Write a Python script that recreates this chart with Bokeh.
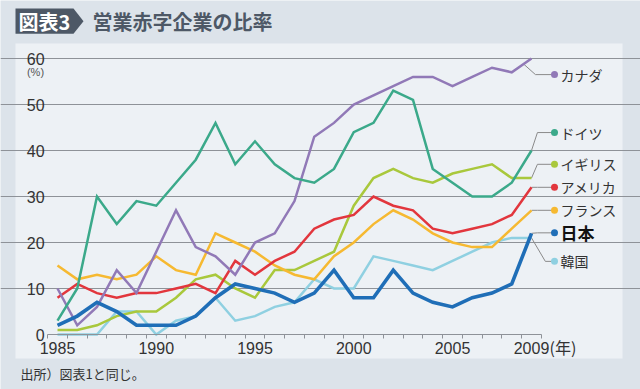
import numpy as np
from bokeh.plotting import figure
from bokeh.models import (Range1d, LinearAxis, FixedTicker, BoxAnnotation,
                          PolyAnnotation, Label, Grid, ColumnDataSource)
from bokeh.core.properties import value
from bokeh.embed import file_html
from bokeh.resources import INLINE

# ---------------- data ----------------
years = list(range(1985, 2010))
canada = [10, 2, 6, 14, 9, 18, 27, 19, 17, 13, 20, 22, 29, 43, 46, 50, 52, 54, 56, 56, 54, 56, 58, 57, 60]
germany = [3, 10, 30, 24, 29, 28, 33, 38, 46, 37, 42, 37, 34, 33, 36, 44, 46, 53, 51, 36, 33, 30, 30, 33, 40]
uk = [1, 1, 2, 4, 5, 5, 8, 12, 13, 10, 8, 14, 14, 16, 18, 28, 34, 36, 34, 33, 35, 36, 37, 34, 34]
usa = [8, 11, 9, 8, 9, 9, 10, 11, 9, 16, 13, 16, 18, 23, 25, 26, 30, 28, 27, 23, 22, 23, 24, 26, 32]
france = [15, 12, 13, 12, 13, 17, 14, 13, 22, 20, 18, 15, 13, 12, 17, 20, 24, 27, 25, 22, 20, 19, 19, 23, 27]
japan = [2, 4, 7, 5, 2, 2, 2, 4, 8, 11, 10, 9, 7, 9, 14, 8, 8, 14, 9, 7, 6, 8, 9, 11, 22]
korea = [0, 0, 0, 5, 5, 0, 3, 4, 8, 3, 4, 6, 7, 12, 10, 10, 17, 16, 15, 14, 16, 18, 20, 21, 21]

names = ["カナダ", "ドイツ", "イギリス", "アメリカ", "フランス", "日本", "韓国"]
series = [canada, germany, uk, usa, france, japan, korea]
y_ticks = [0, 10, 20, 30, 40, 50, 60]
x_label_ticks = [1985, 1990, 1995, 2000, 2005, 2009]

# ---------------- styles / layout ----------------
colors = ["#9179b7", "#3ba98a", "#a9c83c", "#e2363d", "#f6b931", "#1f6eb7", "#8fd0e1"]
widths = [2.5, 2.5, 2.5, 2.5, 2.5, 3.6, 2.5]
label_y = [56.5, 43.9, 37.0, 32.0, 27.0, 22.1, 15.9]
lead_start = [2008.6, 2009, 2009, 2009, 2009, 2009, 2009]
lead_elbow = [2009.2, 2009.3, 2009.3, 2009.3, 2009.3, 2009.3, 2009.7]

OUTER = "#dce3ea"
PANEL = "#edf1f5"
GRID = "#8e9298"
DARK = "#4d5866"
TXT = "#333333"
JP = "Noto Sans CJK JP"
NUM = "Liberation Sans"

W, H = 640, 389
PXY = 19.75   # px per year
PXU = 4.6     # px per unit


def px2x(px):
    return 1985 + (px - 57) / PXY


def px2y(py):
    return (334 - py) / PXU


p = figure(width=W, height=H,
           x_range=Range1d(px2x(0), px2x(W)),
           y_range=Range1d(px2y(H), px2y(0)),
           toolbar_location=None, output_backend="svg",
           x_axis_location=None, y_axis_location=None, min_border=0)
p.outline_line_color = None
p.background_fill_color = OUTER
p.border_fill_color = OUTER
p.grid.visible = False

# panel
p.add_layout(BoxAnnotation(left=px2x(15), right=px2x(622), top=px2y(43), bottom=px2y(358),
                           fill_color=PANEL, fill_alpha=1, line_color=None, level="image"))

# grid
p.add_layout(Grid(dimension=1, ticker=FixedTicker(ticks=y_ticks[1:]), bounds=(1984.5, 2009.5),
                  grid_line_color=GRID, grid_line_width=1))

# axes
xaxis = LinearAxis(fixed_location=0,
                   ticker=FixedTicker(ticks=x_label_ticks,
                                      minor_ticks=[y + 0.5 for y in range(1984, 2010)]),
                   bounds=(1984.5, 2009.5),
                   axis_line_color=GRID, axis_line_width=1,
                   major_tick_out=0, major_tick_in=0,
                   minor_tick_out=4, minor_tick_in=0, minor_tick_line_color=GRID,
                   major_label_standoff=3,
                   major_label_text_font=NUM, major_label_text_font_size="16px",
                   major_label_text_color=TXT)
p.add_layout(xaxis, "below")

yaxis = LinearAxis(fixed_location=1984.5, ticker=FixedTicker(ticks=y_ticks),
                   axis_line_color=None, major_tick_out=0, major_tick_in=0,
                   minor_tick_out=0, minor_tick_in=0, major_label_standoff=3,
                   major_label_text_font=NUM, major_label_text_font_size="16px",
                   major_label_text_color=TXT)
p.add_layout(yaxis, "left")

# leader lines
dot_x = px2x(554)
lxs, lys = [], []
for s, ly, ls, le in zip(series, label_y, lead_start, lead_elbow):
    sy = float(np.interp(ls, years, s))
    lxs.append([ls, le, dot_x])
    lys.append([sy, ly, ly])
p.multi_line(lxs, lys, line_color="#8a8a8a", line_width=1)

# series lines
order = [6, 2, 4, 3, 0, 1, 5]
for i in order:
    p.line(years, series[i], line_color=colors[i], line_width=widths[i], line_join="miter")

# label dots and names
src = ColumnDataSource(dict(
    x=[dot_x] * len(names), y=label_y, name=names, color=colors,
    tcolor=[TXT, TXT, TXT, TXT, TXT, "#111111", TXT],
    fsize=["14px", "14px", "14px", "14px", "14px", "17px", "14px"],
    fstyle=["normal", "normal", "normal", "normal", "normal", "bold", "normal"],
))
p.scatter("x", "y", source=src, size=7, fill_color="color", line_color=None)
p.text("x", "y", text="name", source=src, x_offset=6, text_align="left",
       text_baseline="middle", text_font=value(JP), text_font_size="fsize",
       text_font_style="fstyle", text_color="tcolor")

# title
p.add_layout(PolyAnnotation(xs=[px2x(15), px2x(73), px2x(83), px2x(73), px2x(15)],
                            ys=[px2y(8), px2y(8), px2y(20.7), px2y(33.3), px2y(33.3)],
                            fill_color=DARK, fill_alpha=1, line_color=None))
p.add_layout(Label(x=px2x(44), y=px2y(21), text="図表3", text_align="center",
                   text_baseline="middle", text_font=JP, text_font_style="bold",
                   text_font_size="20px", text_color="white"))
p.add_layout(Label(x=px2x(92), y=px2y(21), text="営業赤字企業の比率", text_align="left",
                   text_baseline="middle", text_font=JP, text_font_style="bold",
                   text_font_size="20px", text_color=DARK))

# unit labels
p.add_layout(Label(x=px2x(35), y=px2y(71), text="(%)", text_align="center",
                   text_baseline="middle", text_font=NUM, text_font_size="11px",
                   text_color="#555555"))
p.add_layout(Label(x=px2x(549), y=px2y(346.5), text="(年)", text_align="left",
                   text_baseline="middle", text_font=JP, text_font_size="16px",
                   text_color=TXT))

# source
p.add_layout(Label(x=px2x(20), y=px2y(373), text="出所）図表1と同じ。", text_align="left",
                   text_baseline="middle", text_font=JP, text_font_size="13px",
                   text_color=TXT))

open("out.html", "w").write(file_html(p, INLINE))
